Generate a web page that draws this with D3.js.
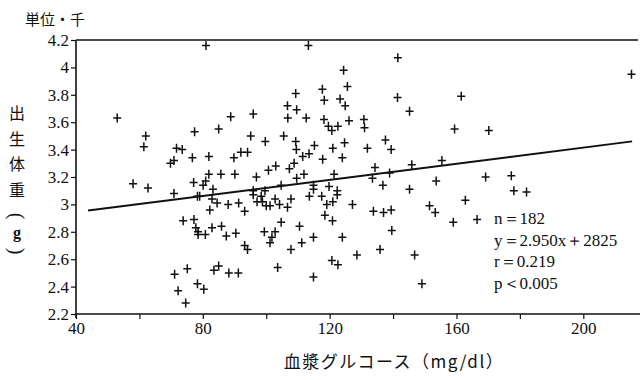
<!DOCTYPE html>
<html><head><meta charset="utf-8">
<script src="https://cdn.jsdelivr.net/npm/d3@7"></script>
<style>
html,body{margin:0;padding:0;background:#fff;}
svg{display:block;}
text{fill:#111;}
</style>
</head><body>
<script>
// glucose (mg/dl)
const glucose = [
81,53,62,61.4,77.4,85,88.8,95.9,95.1,71.7,73.5,76.7,81.9,89.8,92,94.1,70.9,69.8,
113.3,141.5,124.4,109.3,117.7,125.6,118.3,123.3,124.9,141.4,145.2,106.7,109.6,106.8,112.6,118.2,119.6,120.7,122.6,126.1,130.8,131,
99.7,105.5,109.3,109.5,115.2,121,124.7,131.9,137.6,139.4,113.5,111.5,117.8,124,108.8,103,100.7,107.3,134.3,145.9,155.4,138.9,
215.2,161.5,159.4,170.2,
81.9,85.7,90.1,96.9,58,62.7,70.9,77.1,80.1,80.9,83.2,78.3,79,82.9,84.5,88,91.3,93.2,82.2,95.9,
95.9,97.1,73.8,77.2,77.8,78.5,78.5,80.8,82.9,85.9,87.4,90.4,93.2,94.1,71.1,75.1,83.5,85,88.2,91.2,72.2,78.3,80.3,74.6,
109.6,111.9,121.4,133.5,153.6,104.7,114.9,114.9,119.8,122.4,122.4,136.8,145.2,113.6,117.5,99.6,98.4,98.8,100,101.2,
102.8,104.2,106.7,107.8,119.1,121,127.2,118.5,120.9,104.7,133.8,137,139.4,151.5,153.3,99.4,102.8,101.8,101.2,110.5,
114.9,111.2,107.8,124,139.6,135.9,128.6,120.7,122.6,146.8,103.6,114.9,149.1,
169.2,177.3,178.1,182.1,162.8,159,166.5
];
// birth weight (kg)
const weight = [
4.16,3.63,3.50,3.42,3.53,3.55,3.64,3.66,3.50,3.41,3.40,3.34,3.35,3.34,3.38,3.38,3.32,3.30,
4.16,4.07,3.98,3.81,3.84,3.86,3.76,3.77,3.72,3.78,3.68,3.72,3.69,3.63,3.63,3.62,3.57,3.54,3.57,3.61,3.62,3.56,
3.46,3.50,3.46,3.40,3.43,3.41,3.45,3.41,3.47,3.40,3.37,3.35,3.33,3.34,3.30,3.28,3.25,3.26,3.27,3.29,3.32,3.23,
3.95,3.79,3.55,3.54,
3.22,3.22,3.22,3.20,3.15,3.12,3.08,3.16,3.14,3.17,3.11,3.06,3.06,3.04,3.01,3.00,3.01,2.95,2.96,3.10,
3.07,3.02,2.88,2.89,2.83,2.80,2.78,2.78,2.83,2.84,2.77,2.79,2.70,2.67,2.49,2.53,2.52,2.55,2.50,2.50,2.37,2.42,2.38,2.28,
3.19,3.22,3.22,3.19,3.17,3.14,3.14,3.11,3.13,3.10,3.07,3.14,3.11,3.06,3.06,3.10,3.06,3.02,2.99,2.99,
3.04,3.00,2.98,3.04,3.00,3.02,3.00,2.92,2.88,2.87,2.95,2.94,2.96,2.99,2.94,2.80,2.80,2.76,2.72,2.84,
2.76,2.72,2.67,2.76,2.81,2.67,2.63,2.59,2.56,2.63,2.54,2.47,2.42,
3.20,3.21,3.10,3.09,3.03,2.87,2.89
];
// regression line endpoints (y = 2.950x + 2825)
const lineX = [43.8, 215.4];
const lineY = [2.955, 3.460];

const xTicks = [40,60,80,100,120,140,160,180,200];
const xTickLabels = ["40","","80","","120","","160","","200"];
const yTicks = [2.2,2.4,2.6,2.8,3.0,3.2,3.4,3.6,3.8,4.0,4.2];
const yTickLabels = ["2.2","2.4","2.6","2.8","3","3.2","3.4","3.6","3.8","4","4.2"];
const statsText = ["n＝182","y＝2.950x＋2825","r＝0.219","p＜0.005"];
const yTitleChars = ["出","生","体","重"];

// pick the first installed serif face
function pickFont(cands){
  const c = document.createElement("canvas").getContext("2d");
  const s = "0123456789.y=xnrp mmWWii";
  const base = {};
  ["monospace","sans-serif"].forEach(b=>{ c.font = "40px " + b; base[b] = c.measureText(s).width; });
  for (const f of cands){
    for (const b of ["monospace","sans-serif"]){
      c.font = `40px "${f}", ${b}`;
      if (Math.abs(c.measureText(s).width - base[b]) > 0.5) return `"${f}"`;
    }
  }
  return "serif";
}
const SERIF = pickFont(["Liberation Serif","DejaVu Serif","Times New Roman","Noto Serif","Tinos","Noto Serif CJK JP"]);
const JP = '"Noto Sans CJK JP","Noto Sans CJK SC",sans-serif';

const W = 640, H = 380;
const svg = d3.select("body").append("svg").attr("width", W).attr("height", H);

const x = d3.scaleLinear().domain([40,200]).range([76,583.3]);
const y = d3.scaleLinear().domain([2.2,4.2]).range([314,40]);
const ink = "#111";

// x axis
const xAxis = d3.axisBottom(x).tickValues(xTicks).tickSize(5).tickPadding(3)
  .tickFormat((d,i)=>xTickLabels[i]);
const gx = svg.append("g").attr("transform",`translate(0,${y(2.2)})`).call(xAxis)
  .attr("font-family",SERIF).attr("font-size",17);
gx.select(".domain").remove();
gx.selectAll(".tick line").attr("stroke",ink).attr("stroke-width",1.2);
gx.selectAll(".tick text").attr("fill",ink);
svg.append("line").attr("x1",x(40)).attr("x2",W).attr("y1",y(2.2)).attr("y2",y(2.2))
  .attr("stroke",ink).attr("stroke-width",1.6);
// top border
svg.append("line").attr("x1",x(40)).attr("x2",W-2).attr("y1",y(4.2)).attr("y2",y(4.2))
  .attr("stroke",ink).attr("stroke-width",1.6);

// y axis
const yAxis = d3.axisLeft(y).tickValues(yTicks).tickSize(5).tickPadding(2)
  .tickFormat((d,i)=>yTickLabels[i]);
const gy = svg.append("g").attr("transform",`translate(${x(40)},0)`).call(yAxis)
  .attr("font-family",SERIF).attr("font-size",17);
gy.select(".domain").remove();
gy.selectAll(".tick line").attr("stroke",ink).attr("stroke-width",1.2);
gy.selectAll(".tick text").attr("fill",ink);
svg.append("line").attr("x1",x(40)).attr("x2",x(40)).attr("y1",y(4.2)).attr("y2",y(2.2)+4)
  .attr("stroke",ink).attr("stroke-width",1.6);

// regression line
svg.append("line").attr("x1",x(lineX[0])).attr("y1",y(lineY[0]))
  .attr("x2",x(lineX[1])).attr("y2",y(lineY[1]))
  .attr("stroke",ink).attr("stroke-width",2);

// points
svg.append("g").selectAll("path").data(glucose.map((g,i)=>[g,weight[i]])).join("path")
  .attr("transform",d=>`translate(${x(d[0])},${y(d[1])})`)
  .attr("d","M-4,0H4M0,-4.5V4.5")
  .attr("stroke",ink).attr("stroke-width",1.5).attr("fill","none");

// stats text
svg.append("g").attr("font-family",SERIF).attr("font-size",17)
  .selectAll("text").data(statsText).join("text")
  .attr("x",494).attr("y",(d,i)=>224+i*21.7).text(d=>d);

// unit label
svg.append("text").attr("x",25).attr("y",25).attr("font-family",JP).attr("font-size",15).text("単位・千");

// y title vertical
svg.append("g").attr("font-family",JP).attr("font-size",16)
  .selectAll("text").data(yTitleChars).join("text")
  .attr("x",17).attr("y",(d,i)=>119+i*25.5)
  .attr("text-anchor","middle").text(d=>d);
svg.append("text").attr("transform","translate(17,216) rotate(90)")
  .attr("text-anchor","middle").attr("dy","0.35em")
  .attr("font-family",SERIF).attr("font-size",20).text("(");
svg.append("text").attr("x",17).attr("y",238).attr("text-anchor","middle")
  .attr("font-family",SERIF).attr("font-size",16).attr("font-weight","bold").text("g");
svg.append("text").attr("transform","translate(17,251) rotate(90)")
  .attr("text-anchor","middle").attr("dy","0.35em")
  .attr("font-family",SERIF).attr("font-size",20).text(")");

// x title
svg.append("text").attr("x",394).attr("y",368).attr("text-anchor","middle")
  .attr("font-family",JP).attr("font-size",17).attr("letter-spacing",1.5)
  .text("血漿グルコース（mg/dl）");
</script>
</body></html>
